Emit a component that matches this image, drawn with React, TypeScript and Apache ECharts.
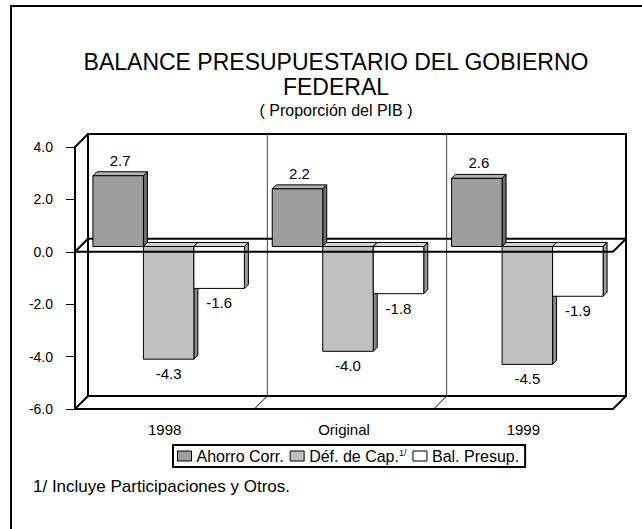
import React, { useEffect, useRef } from "react";
import * as echarts from "echarts";

const categories = ["1998", "Original", "1999"];
const ahorroCorr = [2.7, 2.2, 2.6];
const defCap = [-4.3, -4.0, -4.5];
const balPresup = [-1.6, -1.8, -1.9];
const seriesNames = ["Ahorro Corr.", "Déf. de Cap.", "Bal. Presup."];
const titleLines = ["BALANCE PRESUPUESTARIO DEL GOBIERNO", "FEDERAL"];
const subtitle = "( Proporción del PIB )";
const footnote = "1/ Incluye Participaciones y Otros.";
const yMin = -6;
const yMax = 4;
const yStep = 2;

const FONT = '"Liberation Sans", Arial, sans-serif';

const faceColors = [
  { front: "#9e9e9e", top: "#b2b2b2", side: "#6c6c6c" },
  { front: "#c0c0c0", top: "#cdcdcd", side: "#888888" },
  { front: "#ffffff", top: "#d8d8d8", side: "#9a9a9a" },
];

const DX = 13;
const DY = -13;

function barRender(idx: number) {
  return (params: any, api: any) => {
    const cat = api.value(0);
    const val = api.value(1);
    const band = api.size([1, 0])[0];
    const base = api.coord([cat, 0]);
    const tip = api.coord([cat, val]);
    const bw = band * 0.2816;
    const sx = 4;
    const sy = -5.3;
    const d = 4;
    const x0 = base[0] - 1.5 * bw + idx * bw + sx;
    const x1 = x0 + bw;
    const yz = base[1] + sy;
    const yv = tip[1] + sy;
    const yTop = Math.min(yz, yv);
    const yBot = Math.max(yz, yv);
    const c = faceColors[idx];
    const edge = { stroke: "#000", lineWidth: 1 };
    const label = val.toFixed(1);
    const lx = (x0 + x1) / 2 + (val >= 0 ? 2 : 0);
    const ly = val >= 0 ? yTop - 8 : yBot + 7;
    return {
      type: "group",
      children: [
        {
          type: "polygon",
          shape: { points: [[x0, yTop], [x0 + d, yTop - d], [x1 + d, yTop - d], [x1, yTop]] },
          style: { fill: c.top, ...edge },
        },
        {
          type: "polygon",
          shape: { points: [[x1, yTop], [x1 + d, yTop - d], [x1 + d, yBot - d], [x1, yBot]] },
          style: { fill: c.side, ...edge },
        },
        {
          type: "rect",
          shape: { x: x0, y: yTop, width: bw, height: yBot - yTop },
          style: { fill: c.front, ...edge },
        },
        {
          type: "text",
          x: lx,
          y: ly,
          style: {
            text: label,
            textAlign: "center",
            textVerticalAlign: val >= 0 ? "bottom" : "top",
            fontSize: 15,
            fontFamily: FONT,
            fill: "#000",
          },
        },
      ],
    };
  };
}

function backFrameRender(params: any, api: any) {
  const cs = params.coordSys;
  const L = cs.x;
  const R = cs.x + cs.width;
  const T = cs.y;
  const B = cs.y + cs.height;
  const z0 = api.coord([0, 0])[1];
  const band = api.size([1, 0])[0];
  const thick = { stroke: "#000", lineWidth: 2 };
  const children: any[] = [
    {
      type: "rect",
      shape: { x: L + DX, y: T + DY, width: cs.width, height: cs.height },
      style: { fill: "#fff", ...thick },
    },
  ];
  for (let k = 1; k < categories.length; k++) {
    const bx = L + k * band;
    children.push({
      type: "line",
      shape: { x1: bx + DX, y1: T + DY, x2: bx + DX, y2: B + DY },
      style: { stroke: "#444", lineWidth: 1 },
    });
    children.push({
      type: "line",
      shape: { x1: bx + DX, y1: B + DY, x2: bx, y2: B },
      style: { stroke: "#000", lineWidth: 1 },
    });
  }
  children.push(
    { type: "line", shape: { x1: L, y1: T, x2: L + DX, y2: T + DY }, style: thick },
    { type: "line", shape: { x1: L, y1: B, x2: L + DX, y2: B + DY }, style: thick },
    { type: "line", shape: { x1: R, y1: B, x2: R + DX, y2: B + DY }, style: thick },
    { type: "line", shape: { x1: L + DX, y1: z0 + DY, x2: R + DX, y2: z0 + DY }, style: thick }
  );
  return { type: "group", children };
}

function frontFrameRender(params: any, api: any) {
  const cs = params.coordSys;
  const L = cs.x;
  const R = cs.x + cs.width;
  const z0 = api.coord([0, 0])[1];
  const thick = { stroke: "#000", lineWidth: 2 };
  return {
    type: "group",
    children: [
      { type: "line", shape: { x1: L, y1: z0, x2: R, y2: z0 }, style: thick },
      { type: "line", shape: { x1: L, y1: z0, x2: L + DX, y2: z0 + DY }, style: thick },
      { type: "line", shape: { x1: R, y1: z0, x2: R + DX, y2: z0 + DY }, style: thick },
    ],
  };
}

export default function App() {
  const ref = useRef<HTMLDivElement>(null);
  useEffect(() => {
    const chart = echarts.init(ref.current!, null, { renderer: "svg" });
    const values = [ahorroCorr, defCap, balPresup];
    const option: any = {
      animation: false,
      backgroundColor: "#fff",
      textStyle: { fontFamily: FONT },
      grid: { left: 75, right: 29, top: 147, bottom: 120 },
      xAxis: {
        type: "category",
        data: categories,
        axisLine: { onZero: false, lineStyle: { color: "#000", width: 2 } },
        axisTick: { alignWithLabel: true, length: 6, lineStyle: { color: "#555" } },
        axisLabel: { fontSize: 15, color: "#000", margin: 13, fontFamily: FONT },
        splitLine: { show: false },
      },
      yAxis: {
        type: "value",
        min: yMin,
        max: yMax,
        interval: yStep,
        axisLine: { show: true, lineStyle: { color: "#000", width: 2 } },
        axisTick: { show: true, length: 9, lineStyle: { color: "#000" } },
        axisLabel: {
          fontSize: 14,
          color: "#000",
          margin: 22,
          fontFamily: FONT,
          formatter: (v: number) => v.toFixed(1),
        },
        splitLine: { show: false },
      },
      legend: {
        left: 173,
        top: 445,
        padding: [3, 6, 3, 4],
        borderColor: "#000",
        borderWidth: 2,
        itemGap: 6,
        itemWidth: 14,
        itemHeight: 10,
        icon: "rect",
        data: seriesNames.map((n, i) => ({
          name: n,
          itemStyle: { color: faceColors[i].front, borderColor: "#000", borderWidth: 1 },
        })),
        formatter: (name: string) => (name === seriesNames[1] ? `{a|${name}}{s|1/}` : name),
        textStyle: {
          fontSize: 16,
          color: "#000",
          fontFamily: FONT,
          rich: {
            a: { fontSize: 16, color: "#000", fontFamily: FONT },
            s: { fontSize: 9, color: "#000", fontFamily: FONT, verticalAlign: "top" },
          },
        },
      },
      graphic: [
        { type: "line", shape: { x1: 11, y1: 6, x2: 11, y2: 529 }, style: { stroke: "#000", lineWidth: 2 } },
        { type: "line", shape: { x1: 10, y1: 6, x2: 642, y2: 6 }, style: { stroke: "#000", lineWidth: 2 } },
        {
          type: "text",
          x: 336,
          y: 49,
          style: {
            text: titleLines.join("\n"),
            textAlign: "center",
            textVerticalAlign: "top",
            fontSize: 23,
            lineHeight: 25,
            fontFamily: FONT,
            fill: "#000",
          },
        },
        {
          type: "text",
          x: 336,
          y: 102,
          style: {
            text: subtitle,
            textAlign: "center",
            textVerticalAlign: "top",
            fontSize: 16,
            fontFamily: FONT,
            fill: "#000",
          },
        },
        {
          type: "text",
          x: 33,
          y: 478,
          style: {
            text: footnote,
            textAlign: "left",
            textVerticalAlign: "top",
            fontSize: 17,
            fontFamily: FONT,
            fill: "#000",
          },
        },
      ],
      series: [
        {
          type: "custom",
          name: "frameBack",
          coordinateSystem: "cartesian2d",
          data: [[0, 0]],
          encode: { x: 0, y: 1 },
          z: 1,
          silent: true,
          renderItem: backFrameRender,
        },
        ...seriesNames.map((n, i) => ({
          type: "custom",
          name: n,
          coordinateSystem: "cartesian2d",
          data: categories.map((_, j) => [j, values[i][j]]),
          encode: { x: 0, y: 1 },
          z: 3,
          itemStyle: { color: faceColors[i].front },
          renderItem: barRender(i),
        })),
        {
          type: "custom",
          name: "frameFront",
          coordinateSystem: "cartesian2d",
          data: [[0, 0]],
          encode: { x: 0, y: 1 },
          z: 5,
          silent: true,
          renderItem: frontFrameRender,
        },
      ],
    };
    chart.setOption(option);
    return () => chart.dispose();
  }, []);
  return (
    <div
      ref={ref}
      style={{ position: "absolute", left: 0, top: 0, width: 642, height: 529, background: "#fff" }}
    />
  );
}
